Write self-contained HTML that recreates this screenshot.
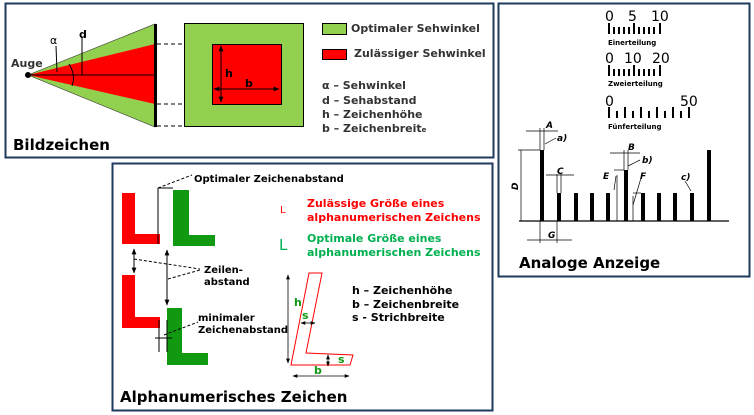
<!DOCTYPE html>
<html><head><meta charset="utf-8"><style>
html,body{margin:0;padding:0;background:#fff;width:754px;height:415px;overflow:hidden}
svg{display:block}
text{font-family:"DejaVu Sans","Liberation Sans",sans-serif;font-weight:bold}
</style></head><body>
<svg width="754" height="415" viewBox="0 0 754 415" xmlns="http://www.w3.org/2000/svg">
<defs>
<marker id="a" viewBox="0 0 10 10" refX="9" refY="5" markerWidth="6" markerHeight="6" orient="auto-start-reverse"><path d="M0,1 L10,5 L0,9 z" fill="#000"/></marker>
</defs>
<!-- Panel borders -->
<rect x="5.5" y="3.5" width="488" height="154" fill="#fff" stroke="#1f3a60" stroke-width="2"/>
<rect x="498.5" y="3.5" width="251" height="273" fill="#fff" stroke="#1f3a60" stroke-width="2"/>
<rect x="112.5" y="163.5" width="380" height="247" fill="#fff" stroke="#1f3a60" stroke-width="2"/>

<!-- Panel 1 -->
<polygon points="28,75 155,24 155,127" fill="#92d050" stroke="#333" stroke-width="0.6"/>
<polygon points="28,75 155,44 155,104" fill="#f00"/>
<rect x="154" y="24" width="3" height="103" fill="#000"/>
<line x1="28" y1="75" x2="155" y2="75" stroke="#000"/>
<line x1="82" y1="37" x2="82" y2="75" stroke="#000"/>
<line x1="56" y1="46" x2="57" y2="72" stroke="#000"/>
<path d="M69,64 Q76,75 72,86" fill="none" stroke="#000"/>
<circle cx="28" cy="75" r="3" fill="#000"/>
<text x="11" y="67" font-size="11" fill="#333">Auge</text>
<text x="50" y="44" font-size="11" font-weight="normal" fill="#000" style="font-weight:normal">α</text>
<text x="79" y="38" font-size="11" fill="#000">d</text>
<g stroke="#000" stroke-dasharray="4,3"><line x1="157" y1="44" x2="212" y2="44"/><line x1="157" y1="104" x2="212" y2="104"/><line x1="157" y1="126" x2="184" y2="126"/></g>
<rect x="184.5" y="23.5" width="119" height="103" fill="#92d050" stroke="#000"/>
<rect x="212.5" y="44.5" width="69" height="60" fill="#f00" stroke="#000"/>
<line x1="221" y1="46" x2="221" y2="102" stroke="#000" marker-start="url(#a)" marker-end="url(#a)"/>
<line x1="214" y1="89" x2="279" y2="89" stroke="#000" marker-start="url(#a)" marker-end="url(#a)"/>
<text x="225" y="77" font-size="11" fill="#000">h</text>
<text x="245" y="87" font-size="11" fill="#000">b</text>
<rect x="322.5" y="23.5" width="24" height="11" fill="#92d050" stroke="#000"/>
<rect x="322.5" y="49.5" width="24" height="10" fill="#f00" stroke="#000"/>
<g font-size="11" fill="#333">
<text x="351" y="32">Optimaler Sehwinkel</text>
<text x="354" y="57">Zulässiger Sehwinkel</text>
<text x="322" y="89">α – Sehwinkel</text>
<text x="322" y="104">d – Sehabstand</text>
<text x="322" y="118">h – Zeichenhöhe</text>
<text x="322" y="132">b – Zeichenbreit<tspan font-size="7">e</tspan></text>
</g>
<text x="13" y="150" font-size="15" fill="#000">Bildzeichen</text>

<!-- Panel 2 -->
<g font-family="Liberation Sans" style="font-weight:normal" font-size="14" fill="#000">
<text x="605" y="21" style="font-weight:normal">0</text><text x="628" y="21" style="font-weight:normal">5</text><text x="651" y="21" style="font-weight:normal">10</text>
<text x="605" y="63" style="font-weight:normal">0</text><text x="624" y="63" style="font-weight:normal">10</text><text x="652" y="63" style="font-weight:normal">20</text>
<text x="605" y="106" style="font-weight:normal">0</text><text x="680" y="106" style="font-weight:normal">50</text>
</g>
<g fill="#000">
<rect x="608" y="23" width="2" height="11"/><rect x="613" y="27" width="2" height="7"/><rect x="618" y="27" width="2" height="7"/><rect x="623" y="27" width="2" height="7"/><rect x="628" y="27" width="2" height="7"/><rect x="633" y="23" width="2" height="11"/><rect x="638" y="27" width="2" height="7"/><rect x="643" y="27" width="2" height="7"/><rect x="648" y="27" width="2" height="7"/><rect x="653" y="27" width="2" height="7"/><rect x="659" y="23" width="2" height="11"/>
<rect x="608" y="65" width="2" height="11"/><rect x="613" y="69" width="2" height="7"/><rect x="618" y="69" width="2" height="7"/><rect x="623" y="69" width="2" height="7"/><rect x="628" y="69" width="2" height="7"/><rect x="633" y="65" width="2" height="11"/><rect x="638" y="69" width="2" height="7"/><rect x="643" y="69" width="2" height="7"/><rect x="648" y="69" width="2" height="7"/><rect x="653" y="69" width="2" height="7"/><rect x="659" y="65" width="2" height="11"/>
<rect x="608" y="107" width="2" height="11"/><rect x="616" y="111" width="2" height="7"/><rect x="624" y="107" width="2" height="11"/><rect x="632" y="111" width="2" height="7"/><rect x="640" y="107" width="2" height="11"/><rect x="648" y="111" width="2" height="7"/><rect x="656" y="107" width="2" height="11"/><rect x="664" y="111" width="2" height="7"/><rect x="672" y="107" width="2" height="11"/><rect x="680" y="111" width="2" height="7"/><rect x="688" y="107" width="2" height="11"/>
</g>
<g font-size="7" fill="#000"><text x="608" y="45">Einerteilung</text><text x="608" y="86">Zweierteilung</text><text x="608" y="129">Fünferteilung</text></g>
<line x1="519" y1="221" x2="729" y2="221" stroke="#000" stroke-width="1.2"/>
<g fill="#000">
<rect x="540" y="150" width="4" height="71"/>
<rect x="557" y="193" width="4" height="28"/><rect x="574" y="193" width="4" height="28"/><rect x="590" y="193" width="4" height="28"/><rect x="606" y="193" width="4" height="28"/>
<rect x="624" y="170" width="4" height="51"/>
<rect x="641" y="193" width="4" height="28"/><rect x="657" y="193" width="4" height="28"/><rect x="673" y="193" width="4" height="28"/><rect x="690" y="193" width="4" height="28"/>
<rect x="707" y="150" width="4" height="71"/>
</g>
<g stroke="#000" stroke-width="0.7" fill="none">
<line x1="540" y1="128" x2="540" y2="150"/><line x1="544" y1="128" x2="544" y2="150"/><line x1="526" y1="131" x2="558" y2="131"/>
<line x1="518" y1="150" x2="540" y2="150"/><line x1="521" y1="150" x2="521" y2="221"/>
<line x1="557" y1="174" x2="557" y2="193"/><line x1="561" y1="174" x2="561" y2="193"/><line x1="546" y1="175" x2="574" y2="175"/>
<line x1="540" y1="221" x2="540" y2="243"/><line x1="557" y1="221" x2="557" y2="243"/><line x1="527" y1="240" x2="572" y2="240"/>
<line x1="624" y1="150" x2="624" y2="170"/><line x1="628" y1="150" x2="628" y2="170"/><line x1="610" y1="153" x2="640" y2="153"/>
<line x1="614" y1="170" x2="624" y2="170"/><line x1="617" y1="175" x2="617" y2="221"/><line x1="616" y1="176" x2="614" y2="190"/>
<line x1="633" y1="193" x2="641" y2="193"/><line x1="633" y1="196" x2="633" y2="221"/><line x1="641" y1="178" x2="633" y2="205"/>
<line x1="545" y1="144" x2="556" y2="138"/><line x1="628" y1="166" x2="640" y2="160"/><line x1="685" y1="181" x2="691" y2="191"/>
</g>
<g font-family="Liberation Sans" font-style="italic" font-size="9" fill="#000" style="font-weight:normal">
<text x="546" y="128">A</text><text x="557" y="141">a)</text><text x="557" y="174">C</text><text x="512" y="190" transform="rotate(-90 515 187)">D</text>
<text x="548" y="238">G</text><text x="628" y="150">B</text><text x="642" y="163">b)</text><text x="603" y="179">E</text><text x="640" y="179">F</text><text x="681" y="180">c)</text>
</g>
<text x="519" y="268" font-size="15" fill="#000">Analoge Anzeige</text>

<!-- Panel 3 -->
<g fill="#f00">
<path d="M122,193 H135 V234 H160 V244 H122 Z"/>
<path d="M122,275 H135 V317 H160 V328 H122 Z"/>
</g>
<g fill="#119911">
<path d="M173,190 H189 V235 H215 V246 H173 Z"/>
<path d="M167,308 H182 V353 H208 V365 H167 Z"/>
</g>
<g stroke="#000" fill="none">
<line x1="158" y1="188" x2="158" y2="244"/><line x1="158" y1="188" x2="173" y2="188"/>
<line x1="158" y1="188" x2="192" y2="175" stroke-dasharray="3,2"/>
<line x1="134" y1="249" x2="134" y2="273" marker-start="url(#a)" marker-end="url(#a)"/>
<line x1="167" y1="250" x2="167" y2="305" marker-start="url(#a)" marker-end="url(#a)"/>
<line x1="134" y1="259" x2="200" y2="269" stroke-dasharray="3,2"/>
<line x1="168" y1="279" x2="200" y2="270" stroke-dasharray="3,2"/>
<line x1="159" y1="320" x2="159" y2="352"/><line x1="167" y1="320" x2="167" y2="352"/>
<line x1="155" y1="338" x2="172" y2="338"/>
<line x1="164" y1="335" x2="198" y2="322" stroke-dasharray="3,2"/>
</g>
<g font-size="10" fill="#000">
<text x="194" y="182">Optimaler Zeichenabstand</text>
<text x="204" y="273">Zeilen-</text><text x="204" y="285">abstand</text>
<text x="198" y="321">minimaler</text><text x="198" y="333">Zeichenabstand</text>
</g>
<text x="280" y="213" font-size="10" fill="#f00" style="font-weight:normal">L</text>
<text x="279" y="250" font-size="15" fill="#00b050" style="font-weight:normal">L</text>
<g font-size="11">
<text x="307" y="207" fill="#f00">Zulässige Größe eines</text>
<text x="307" y="221" fill="#f00">alphanumerischen Zeichens</text>
<text x="307" y="242" fill="#00b050">Optimale Größe eines</text>
<text x="307" y="256" fill="#00b050">alphanumerischen Zeichens</text>
</g>
<polygon points="309,273 322,273 306,353 353,355 350,365 291,365" fill="#fff" stroke="#f00" stroke-width="1"/>
<g stroke="#000" fill="none" stroke-width="0.8">
<line x1="288" y1="275" x2="288" y2="363" marker-start="url(#a)" marker-end="url(#a)"/>
<line x1="301" y1="323" x2="315" y2="323" marker-start="url(#a)" marker-end="url(#a)"/>
<line x1="328" y1="355" x2="328" y2="366" marker-start="url(#a)" marker-end="url(#a)"/>
<line x1="293" y1="376" x2="349" y2="376" marker-start="url(#a)" marker-end="url(#a)"/>
</g>
<g font-size="11" fill="#119911"><text x="294" y="306">h</text><text x="302" y="319">s</text><text x="338" y="363">s</text><text x="314" y="374">b</text></g>
<g font-size="11" fill="#000">
<text x="352" y="294">h – Zeichenhöhe</text>
<text x="352" y="308">b – Zeichenbreite</text>
<text x="352" y="321">s - Strichbreite</text>
</g>
<text x="120" y="402" font-size="15" fill="#000">Alphanumerisches Zeichen</text>
</svg>
</body></html>
